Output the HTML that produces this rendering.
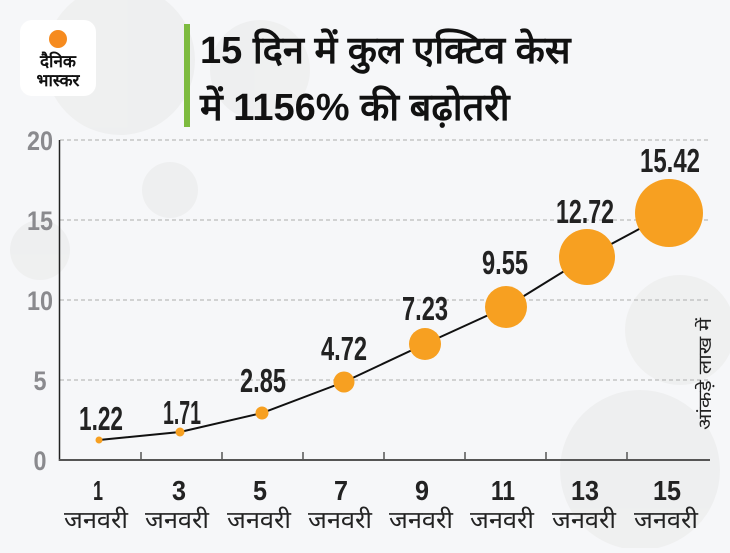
<!DOCTYPE html>
<html><head><meta charset="utf-8"><style>
html,body{margin:0;padding:0;background:#f6f7f9;}
body{width:730px;height:548px;overflow:hidden;position:relative;font-family:"Liberation Sans","Noto Sans CJK SC",sans-serif;}
</style></head><body>
<svg width="730" height="548" viewBox="0 0 730 548" xmlns="http://www.w3.org/2000/svg">
<rect width="730" height="548" fill="#f6f7f9"/>
<g fill="#eceded" opacity="0.7">
<circle cx="120" cy="60" r="75"/>
<circle cx="260" cy="70" r="50"/>
<circle cx="640" cy="470" r="80"/>
<circle cx="680" cy="330" r="55"/>
<circle cx="40" cy="250" r="30"/>
<circle cx="170" cy="190" r="28"/>
</g>
<rect x="20" y="20" width="76" height="76" rx="12" fill="#fff"/>
<circle cx="58" cy="39" r="9" fill="#f68b1f"/>
<text x="58" y="67" font-size="17" font-weight="bold" text-anchor="middle" fill="#111">दैनिक</text>
<text x="58" y="86" font-size="17" font-weight="bold" text-anchor="middle" fill="#111">भास्कर</text>
<rect x="184" y="24" width="6" height="103" fill="#7dbb3f"/>
<text x="200" y="63" font-size="38" font-weight="bold" fill="#111">15 दिन में कुल एक्टिव केस</text>
<text x="200" y="120" font-size="38" font-weight="bold" fill="#111">में 1156% की बढ़ोतरी</text>
<g stroke="#bbb" stroke-width="1.2" stroke-dasharray="4,3">
<line x1="60" y1="140" x2="710" y2="140"/>
<line x1="60" y1="220" x2="710" y2="220"/>
<line x1="60" y1="300" x2="710" y2="300"/>
<line x1="60" y1="380" x2="710" y2="380"/>
</g>
<line x1="59.5" y1="140" x2="59.5" y2="461" stroke="#222" stroke-width="1.5"/>
<line x1="59" y1="460" x2="710" y2="460" stroke="#555" stroke-width="2"/>
<g stroke="#555" stroke-width="1.5">
<line x1="141" y1="452" x2="141" y2="460"/><line x1="222" y1="452" x2="222" y2="460"/>
<line x1="303" y1="452" x2="303" y2="460"/><line x1="384" y1="452" x2="384" y2="460"/>
<line x1="465" y1="452" x2="465" y2="460"/><line x1="546" y1="452" x2="546" y2="460"/>
<line x1="627" y1="452" x2="627" y2="460"/>
</g>
<g font-weight="bold" font-size="27" fill="#8a8a8e" text-anchor="middle" lengthAdjust="spacingAndGlyphs">
<text x="40" y="150" textLength="26" lengthAdjust="spacingAndGlyphs">20</text>
<text x="40" y="230" textLength="26" lengthAdjust="spacingAndGlyphs">15</text>
<text x="40" y="310" textLength="26" lengthAdjust="spacingAndGlyphs">10</text>
<text x="40" y="390" textLength="13" lengthAdjust="spacingAndGlyphs">5</text>
<text x="40" y="470" textLength="13" lengthAdjust="spacingAndGlyphs">0</text>
</g>
<polyline fill="none" stroke="#111" stroke-width="2" points="99,440 180,432 262,413 344,382 425,344 506,307 587,257 669,213"/>
<g fill="#f7a021">
<circle cx="99" cy="440" r="3.5"/><circle cx="180" cy="432" r="4.5"/>
<circle cx="262" cy="413" r="6.5"/><circle cx="344" cy="382" r="10.5"/>
<circle cx="425" cy="344" r="16"/><circle cx="506" cy="307" r="21"/>
<circle cx="587" cy="257" r="28"/><circle cx="669" cy="213" r="34"/>
</g>
<g font-weight="bold" font-size="33" fill="#222" text-anchor="middle">
<text x="101" y="430" textLength="44" lengthAdjust="spacingAndGlyphs">1.22</text>
<text x="182" y="424" textLength="38" lengthAdjust="spacingAndGlyphs">1.71</text>
<text x="263" y="392" textLength="46" lengthAdjust="spacingAndGlyphs">2.85</text>
<text x="344" y="360" textLength="46" lengthAdjust="spacingAndGlyphs">4.72</text>
<text x="425" y="320" textLength="46" lengthAdjust="spacingAndGlyphs">7.23</text>
<text x="505" y="274" textLength="46" lengthAdjust="spacingAndGlyphs">9.55</text>
<text x="585" y="223" textLength="58" lengthAdjust="spacingAndGlyphs">12.72</text>
<text x="670" y="172" textLength="60" lengthAdjust="spacingAndGlyphs">15.42</text>
</g>
<g font-weight="bold" font-size="28" fill="#222" text-anchor="middle">
<text x="98" y="500" textLength="10" lengthAdjust="spacingAndGlyphs">1</text>
<text x="179" y="500" textLength="14" lengthAdjust="spacingAndGlyphs">3</text>
<text x="260" y="500" textLength="14" lengthAdjust="spacingAndGlyphs">5</text>
<text x="341" y="500" textLength="14" lengthAdjust="spacingAndGlyphs">7</text>
<text x="422" y="500" textLength="14" lengthAdjust="spacingAndGlyphs">9</text>
<text x="503" y="500" textLength="24" lengthAdjust="spacingAndGlyphs">11</text>
<text x="585" y="500" textLength="28" lengthAdjust="spacingAndGlyphs">13</text>
<text x="667" y="500" textLength="28" lengthAdjust="spacingAndGlyphs">15</text>
</g>
<g font-size="24" fill="#222" text-anchor="middle">
<text x="96" y="528" textLength="64" lengthAdjust="spacingAndGlyphs">जनवरी</text>
<text x="177" y="528" textLength="64" lengthAdjust="spacingAndGlyphs">जनवरी</text>
<text x="259" y="528" textLength="64" lengthAdjust="spacingAndGlyphs">जनवरी</text>
<text x="340" y="528" textLength="64" lengthAdjust="spacingAndGlyphs">जनवरी</text>
<text x="421" y="528" textLength="64" lengthAdjust="spacingAndGlyphs">जनवरी</text>
<text x="502" y="528" textLength="64" lengthAdjust="spacingAndGlyphs">जनवरी</text>
<text x="584" y="528" textLength="64" lengthAdjust="spacingAndGlyphs">जनवरी</text>
<text x="666" y="528" textLength="64" lengthAdjust="spacingAndGlyphs">जनवरी</text>
</g>
<text transform="translate(711,374) rotate(-90)" font-size="18" fill="#222" text-anchor="middle" textLength="112" lengthAdjust="spacingAndGlyphs">आंकड़े लाख में</text>
</svg>
</body></html>
